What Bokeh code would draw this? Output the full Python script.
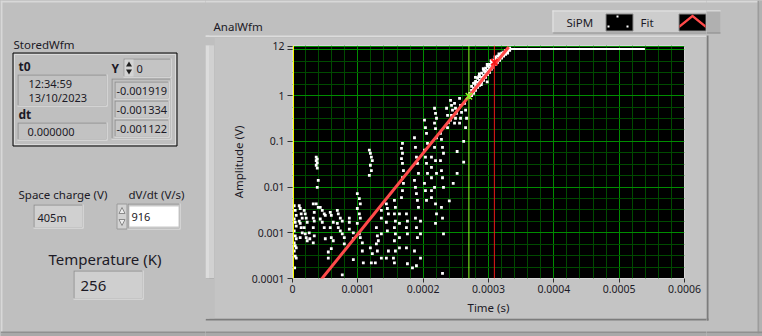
from bokeh.plotting import figure
from bokeh.layouts import row, column
from bokeh.models import Span, FixedTicker, Range1d, ColumnDataSource, CustomJSTickFormatter
from bokeh.core.properties import value
from bokeh.embed import file_html
from bokeh.resources import INLINE

# ---------------- data ----------------
x_ticks = [0, 0.0001, 0.0002, 0.0003, 0.0004, 0.0005, 0.0006]
x_tick_labels = ["0", "0.0001", "0.0002", "0.0003", "0.0004", "0.0005", "0.0006"]
y_ticks = [0.0001, 0.001, 0.01, 0.1, 1, 10, 12]
y_tick_labels = ["0.0001", "0.001", "0.01", "0.1", "1", "", "12"]

# SiPM waveform samples (time in microseconds, amplitude in V)
sipm_t_us = [
    2.6, 4.1, 5.7, 2.6, 4.1, 5.7, 2.6, 4.1, 5.7, 2.6, 4.1, 5.7, 2.6, 4.1, 5.7, 3.3,
    10.3, 11.8, 13.3, 14.9, 10.3, 11.8, 13.3, 14.9, 11.8,
    17.9, 19.5, 21.0, 22.5, 17.9, 19.5, 21.0, 22.5,
    25.6, 26.5,
    31.8, 33.3, 31.8, 33.3, 31.8, 33.3, 31.8,
    36.3, 37.9, 36.3, 37.9, 36.3, 37.9, 39.4, 37.9, 36.3, 39.4,
    42.5, 45.6, 48.6, 50.2, 42.5, 45.6, 48.6, 50.2,
    57.8, 59.4, 62.4, 57.8, 59.4, 62.4, 59.4, 54.8, 54.8,
    68.6, 70.1, 73.2, 76.2, 68.6, 70.1, 73.2, 76.2, 76.2,
    79.3, 79.3, 87.0, 87.0, 87.0, 93.1, 93.1, 93.1,
    99.2, 102.3, 103.8, 99.2, 102.3, 103.8, 99.2, 102.3, 103.8, 106.9, 106.9, 108.4,
    117.6, 119.2, 120.7, 122.2, 119.2, 120.7, 117.6, 119.2, 122.2, 120.7,
    128.4, 129.9, 131.4, 128.4, 129.9, 126.8,
    136.0, 136.0, 136.0, 136.0,
    143.7, 145.2, 146.8, 143.7, 145.2, 146.8, 143.7,
    156.0, 157.5, 156.0, 157.5, 156.0, 157.5, 156.0, 157.5, 156.0, 154.5,
    163.7, 163.7, 163.7, 163.7,
    168.3, 166.8, 168.3, 166.8, 168.3, 169.8, 168.3, 169.8, 168.3, 166.8,
    174.4, 175.9, 174.4, 175.9, 174.4, 175.9,
    186.7, 188.2, 189.7, 191.2, 192.8, 186.7, 188.2, 189.7, 191.2, 192.8, 188.2, 189.7, 191.2, 186.7, 183.6, 189.7,
    195.9, 195.9, 195.9,
    202.0, 203.5, 205.1, 206.6, 202.0, 203.5, 205.1, 206.6, 202.0, 203.5, 205.1,
    212.7, 212.7, 212.7, 212.7, 212.7,
    217.4, 218.9, 220.4, 217.4, 218.9, 220.4, 217.4, 218.9, 220.4, 217.4, 218.9, 220.4, 218.9,
    226.5, 228.0, 229.6, 231.1, 226.5, 228.0, 229.6, 231.1, 228.0, 229.6, 231.1, 229.6,
    235.8, 237.3, 238.8, 237.3,
    241.9, 243.4, 244.9, 243.4, 241.9,
    248.0, 249.5, 251.0, 249.5, 248.0,
    255.7, 257.2, 258.7, 257.2, 255.7,
    263.4, 264.9, 266.4, 264.9,
    271.0, 271.0,
    252.0, 252.0, 262.0, 262.0, 246.0, 240.0,
    274.1, 274.1, 274.1, 277.1, 277.1, 277.1, 280.2, 280.2, 280.2, 283.3, 283.3, 283.3,
    286.3, 286.3, 286.3, 289.4, 289.4, 289.4, 292.5, 292.5, 292.5, 295.6, 295.6, 295.6,
    298.6, 298.6, 298.6, 301.7, 301.7, 301.7, 304.8, 304.8, 304.8, 307.8, 307.8, 307.8,
    310.9, 310.9, 310.9, 313.9, 313.9, 313.9, 317.0, 317.0, 317.0, 320.1, 320.1, 320.1,
    323.2, 323.2, 323.2, 326.2, 326.2, 326.2, 329.3, 329.3, 329.3, 332.4, 332.4, 332.4,
    289.0, 298.0, 279.0, 285.0, 294.0, 303.0, 312.0, 321.0,
    280.0, 286.0, 292.0, 298.0, 304.0, 310.0, 316.0,
]
sipm_v = [
    0.0039, 0.0031, 0.0024, 0.0020, 0.0017, 0.0014, 0.0011, 0.00086, 0.00074, 0.0006, 0.00052, 0.00047, 0.0004, 0.00031, 0.00028, 0.00017,
    0.0039, 0.0034, 0.0026, 0.0021, 0.0018, 0.0016, 0.0013, 0.001, 0.00078,
    0.0031, 0.0026, 0.0021, 0.0017, 0.0013, 0.00095, 0.00078, 0.00067,
    0.001, 0.00074,
    0.0043, 0.0028, 0.0021, 0.0018, 0.0013, 0.00086, 0.0006,
    0.045, 0.041, 0.038, 0.034, 0.030, 0.026, 0.014, 0.0098, 0.0043, 0.0036,
    0.0036, 0.0031, 0.0026, 0.0024, 0.0020, 0.0017, 0.0013, 0.00074,
    0.0028, 0.0024, 0.0017, 0.0013, 0.00078, 0.00067, 0.00045, 0.00028, 0.00038,
    0.0031, 0.0026, 0.0021, 0.0018, 0.0016, 0.0013, 0.0011, 0.00095, 0.00012,
    0.00078, 0.00057, 0.0021, 0.0017, 0.0012, 0.001, 0.00074, 0.00026,
    0.0072, 0.0056, 0.0043, 0.0034, 0.0026, 0.0021, 0.0016, 0.00095, 0.00078, 0.0006, 0.0004, 0.00022,
    0.064, 0.055, 0.045, 0.038, 0.030, 0.023, 0.018, 0.00047, 0.00035, 0.00022,
    0.0013, 0.00086, 0.00067, 0.00057, 0.0004, 0.00022,
    0.0031, 0.0021, 0.00095, 0.00028,
    0.0043, 0.0034, 0.0026, 0.0017, 0.0011, 0.0004, 0.00028,
    0.0051, 0.0036, 0.0026, 0.0018, 0.0013, 0.00095, 0.00067, 0.0004, 0.00022, 0.00028,
    0.0026, 0.0016, 0.00078, 0.00047,
    0.09, 0.07, 0.055, 0.042, 0.033, 0.023, 0.016, 0.012, 0.0084, 0.0059,
    0.0026, 0.0018, 0.0013, 0.00095, 0.00047, 0.00021,
    0.12, 0.074, 0.045, 0.033, 0.02, 0.014, 0.0098, 0.0072, 0.0051, 0.0036, 0.0021, 0.0013, 0.00078, 0.0004, 0.00017, 0.00019,
    0.0018, 0.00095, 0.00028,
    0.29, 0.2, 0.15, 0.09, 0.064, 0.045, 0.033, 0.02, 0.012, 0.0084, 0.0051,
    0.045, 0.027, 0.016, 0.0084, 0.0059,
    0.53, 0.41, 0.32, 0.25, 0.19, 0.12, 0.074, 0.038, 0.02, 0.0098, 0.0043, 0.0026, 0.0016,
    0.15, 0.11, 0.074, 0.055, 0.038, 0.023, 0.016, 0.0098, 0.0036, 0.0021, 0.00095, 0.00013,
    0.53, 0.37, 0.26, 0.20,
    0.79, 0.61, 0.48, 0.37, 0.29,
    0.68, 0.53, 0.41, 0.32, 0.25,
    0.87, 0.61, 0.43, 0.32, 0.25,
    0.68, 0.48, 0.32, 0.20,
    1.12, 0.92,
    0.06, 0.02, 0.1, 0.035, 0.012, 0.005,
    1.6, 1.31, 1.0, 1.85, 1.45, 1.12, 2.05, 1.68, 1.31, 2.4, 1.96, 1.52,
    2.65, 2.17, 1.68, 3.1, 2.52, 1.96, 3.6, 2.79, 2.17, 3.97, 3.25, 2.52,
    4.4, 3.6, 2.9, 4.85, 3.97, 3.25, 5.37, 4.62, 3.8, 5.94, 5.1, 4.2,
    6.6, 5.65, 4.85, 7.3, 6.25, 5.37, 7.65, 6.9, 5.94, 8.5, 7.65, 6.6,
    8.9, 8.0, 7.3, 9.8, 8.9, 8.0, 10.3, 9.3, 8.5, 10.9, 10.3, 9.8,
    1.75, 2.0, 1.9, 2.6, 3.4, 4.6, 6.1, 7.8,
    2.5, 3.0, 3.9, 4.8, 5.8, 7.0, 8.2,
]
# saturated part of the SiPM waveform (flat)
sat_t_us = [333.0, 539.4]
sat_v = [10.5, 10.5]
# exponential fit (straight on the log axis)
fit_t_us = [40.0, 331.0]
fit_v = [8.1e-5, 11.6]
# cursors
cursor_t_us = [1.5, 270.0, 309.0]
cursor_pt_t_us = [270.0, 309.0]
cursor_pt_v = [0.97, 5.4]

# front-panel values
stored_t0 = ["12:34:59", "13/10/2023"]
stored_dt = "0.000000"
stored_index = "0"
stored_y = ["-0.001919", "-0.001334", "-0.001122"]
space_charge = "405m"
dvdt = "916"
temperature = "256"

# ---------------- styles ----------------
FONT = "Noto Sans"
PANEL = "#bfbfbf"
FACE = "#c4c4c4"
TXT = "#1c1a26"

# ---------------- panel decorations (canvas pixel coordinates) ----------------
RECTS = []   # (left, top, right, bottom, fill, line)
POLYS = []   # (xs, ys, fill, line)
TEXTS = []   # (x, y, text, size, align, bold)


def rect(l, t, r, b, fill, line=None):
    RECTS.append((l, t, r, b, fill, line))


def sunken(l, t, r, b, fill):
    rect(l, t, r, b, "#e8e8e8")
    rect(l, t, r - 1, b - 1, "#8c8c8c")
    rect(l + 1, t + 1, r - 1, b - 1, fill)


def text(x, y, s, size="11.5px", align="left", bold=False):
    TEXTS.append((x, y, s, size, align, bold))


# window edges
rect(0, 0, 762, 2, "#d8d8d8")
rect(0, 0, 2, 336, "#d8d8d8")
rect(757, 0, 759, 336, "#9c9c9c")
rect(759, 0, 762, 336, "#b2b2b2")
rect(0, 331, 762, 333, "#909090")
rect(0, 333, 762, 336, "#a9a9a9")

# graph frame bevel
rect(205, 35, 707, 320, FACE)
rect(205, 35, 209, 319, "#dcdcdc")
rect(209, 37, 214, 318, "#d1d1d1")
rect(205, 35, 707, 37, "#dcdcdc")
rect(706, 35, 708, 320, "#7c7c7c")
rect(205, 318, 708, 320, "#7c7c7c")
text(213, 26, "AnalWfm")

# plot legend
rect(552, 10, 720, 33, "#cdcdcd")
rect(552, 10, 720, 11, "#e6e6e6")
rect(552, 10, 553, 33, "#e6e6e6")
rect(706, 11, 720, 33, "#b0b0b0")
rect(552, 32, 720, 33, "#8a8a8a")
text(566, 22, "SiPM")
rect(605.5, 13.5, 632.5, 30.5, "#000000", "#8a8a8a")
rect(616, 15, 618, 17, "#ffffff")
rect(626, 25, 628, 27, "#ffffff")
rect(607, 25, 609, 27, "#ffffff")
text(640, 22, "Fit")
rect(678.5, 13.5, 705.5, 30.5, "#000000", "#8a8a8a")
POLYS.append(([679, 692, 705, 705, 692, 679], [24.5, 14, 24.5, 27.5, 17, 27.5], "#ff4a4a", None))

# StoredWfm cluster
text(13, 44, "StoredWfm")
rect(12.5, 52.5, 176.5, 145.5, PANEL, "#000000")
rect(14, 54, 175, 144, None, "#dadada")
text(18, 66, "t0", size="12px", bold=True)
sunken(17, 74, 107, 106, "#c2c2c2")
text(28, 82.5, stored_t0[0], size="11px")
text(28, 97, stored_t0[1], size="11px")
text(18, 114, "dt", size="12px", bold=True)
sunken(17, 122, 107, 140, "#c2c2c2")
text(27, 131, stored_dt, size="11px")
text(111, 68, "Y", size="12px", bold=True)
sunken(123, 58, 171, 77, "#c4c4c4")
rect(124, 59, 133, 76, "#d4d4d4")
POLYS.append(([125.5, 128.5, 131.5], [66, 61, 66], "#202020", None))
POLYS.append(([125.5, 128.5, 131.5], [69, 74, 69], "#202020", None))
text(136, 68, stored_index, size="11px")
sunken(111, 78, 171, 139, "#c0c0c0")
for i, s in enumerate(stored_y):
    sunken(114, 81 + 19 * i, 169, 99 + 19 * i, "#c6c6c6")
    text(116, 90.5 + 19 * i, s, size="11px")

# numeric indicators / controls
text(18, 194, "Space charge (V)")
sunken(33, 204, 83, 228, "#d0d0d0")
text(37, 216.5, space_charge, size="11px")
text(128, 194, "dV/dt (V/s)")
rect(116.5, 203.5, 126.5, 228.5, "#d2d2d2", "#9a9a9a")
POLYS.append(([118.5, 121.5, 124.5], [213, 207, 213], "#ececec", "#8a8a8a"))
POLYS.append(([118.5, 121.5, 124.5], [219, 225, 219], "#ececec", "#8a8a8a"))
sunken(127, 203, 180, 229, "#c8c8c8")
rect(129, 206, 178, 226, "#ffffff")
text(131, 216.5, dvdt, size="11px")
text(104.5, 258, "Temperature (K)", size="15px", align="center")
sunken(73, 270, 143, 299, "#cfcfcf")
text(80, 285.5, temperature, size="15px")


def deco_fig(x0, y0, x1, y1):
    f = figure(width=x1 - x0, height=y1 - y0, title=None,
               x_range=Range1d(x0, x1), y_range=Range1d(y1, y0),
               x_axis_location=None, y_axis_location=None,
               output_backend="svg", toolbar_location=None, min_border=0,
               background_fill_color=PANEL, border_fill_color=PANEL,
               outline_line_color=None)
    f.grid.visible = False
    src = ColumnDataSource(dict(
        l=[r[0] for r in RECTS], t=[r[1] for r in RECTS],
        r=[r[2] for r in RECTS], b=[r[3] for r in RECTS],
        fc=[r[4] or "#000000" for r in RECTS], fa=[1 if r[4] else 0 for r in RECTS],
        lc=[r[5] or "#000000" for r in RECTS], la=[1 if r[5] else 0 for r in RECTS]))
    f.quad(left="l", right="r", top="t", bottom="b", source=src,
           fill_color="fc", fill_alpha="fa", line_color="lc", line_alpha="la", line_width=1)
    for xs, ys, fc, lc in POLYS:
        if max(xs) > x0 and min(xs) < x1 and max(ys) > y0 and min(ys) < y1:
            f.patch(xs, ys, fill_color=fc, line_color=lc or fc, line_alpha=1 if lc else 0)
    for x, y, s, size, align, bold in TEXTS:
        if x0 <= x < x1 and y0 <= y < y1:
            f.text(x=[x], y=[y], text=[s], text_font=value(FONT), text_font_size=value(size),
                   text_color=TXT, text_align=align, text_baseline="middle",
                   text_font_style="bold" if bold else "normal")
    return f


figL = deco_fig(0, 0, 205, 336)
figTop = deco_fig(205, 0, 706, 37)
figLS = deco_fig(205, 37, 214, 318)
figB = deco_fig(205, 318, 706, 336)
figR = deco_fig(706, 0, 762, 336)

# ---------------- the graph ----------------
p = figure(width=492, height=281, title=None,
           x_range=Range1d(0, 0.0006), y_range=Range1d(0.0001, 12.5),
           y_axis_type="log", output_backend="svg", toolbar_location=None,
           min_border_left=78, min_border_right=22, min_border_top=8, min_border_bottom=40,
           background_fill_color="#000000", border_fill_color=FACE,
           outline_line_color="#d6d6d6")

x_minor = [i * 0.00002 for i in range(31) if i % 5]
y_minor = [10 ** (k + j / 4) for k in range(-4, 1) for j in (1, 2, 3)]
xt = FixedTicker(ticks=x_ticks, minor_ticks=x_minor)
yt = FixedTicker(ticks=y_ticks, minor_ticks=y_minor)
fmt_code = """
for (let i = 0; i < tv.length; i++) {
  if (Math.abs(tv[i] - tick) <= 1e-6 * Math.max(Math.abs(tv[i]), 1e-12)) return tl[i];
}
return '';
"""
for ax, tk, tv, tl, lab in ((p.xaxis[0], xt, x_ticks, x_tick_labels, "Time (s)"),
                            (p.yaxis[0], yt, y_ticks, y_tick_labels, "Amplitude (V)")):
    ax.ticker = tk
    ax.formatter = CustomJSTickFormatter(args=dict(tv=tv, tl=tl), code=fmt_code)
    ax.axis_label = lab
    ax.axis_label_text_font = FONT
    ax.axis_label_text_font_style = "normal"
    ax.axis_label_text_font_size = "11.5px"
    ax.axis_label_text_color = TXT
    ax.major_label_text_font = FONT
    ax.major_label_text_font_size = "10.5px"
    ax.major_label_text_color = TXT
    ax.axis_line_color = None
    ax.major_tick_line_color = "#303030"
    ax.major_tick_in = 0
    ax.minor_tick_line_color = None
p.xaxis[0].major_tick_out = 4
p.xaxis[0].major_label_standoff = 2
p.xaxis[0].axis_label_standoff = 4
p.yaxis[0].major_tick_out = 5
p.yaxis[0].major_label_standoff = 3
p.yaxis[0].axis_label_standoff = 3

for g, tk in ((p.xgrid[0], xt), (p.ygrid[0], yt)):
    g.ticker = tk
    g.grid_line_color = "#008c00"
    g.grid_line_alpha = 1
    g.minor_grid_line_color = "#004a00"
    g.minor_grid_line_alpha = 1

src = ColumnDataSource(dict(t=[v * 1e-6 for v in sipm_t_us], v=sipm_v))
p.scatter("t", "v", source=src, marker="square", size=2.8, fill_color="#ffffff",
          line_color=None)
p.line([v * 1e-6 for v in sat_t_us], sat_v, line_color="#ffffff", line_width=2)
p.line([v * 1e-6 for v in fit_t_us], fit_v, line_color="#ff4a4a", line_width=3)

for t, c in zip(cursor_t_us, ["#ffff00", "#88ff22", "#e81818"]):
    p.add_layout(Span(location=t * 1e-6, dimension="height", line_color=c, line_width=1))
p.scatter([cursor_pt_t_us[0] * 1e-6], [cursor_pt_v[0]], marker="x", size=9,
          line_color="#88ff22", line_width=1.5)
p.scatter([cursor_pt_t_us[1] * 1e-6], [cursor_pt_v[1]], marker="x", size=9,
          line_color="#ff1a1a", line_width=2)

page = row(figL,
           column(figTop, row(figLS, p, spacing=0), figB, spacing=0),
           figR,
           spacing=0, styles={"background-color": PANEL})
open("out.html", "w").write(file_html(page, INLINE))
